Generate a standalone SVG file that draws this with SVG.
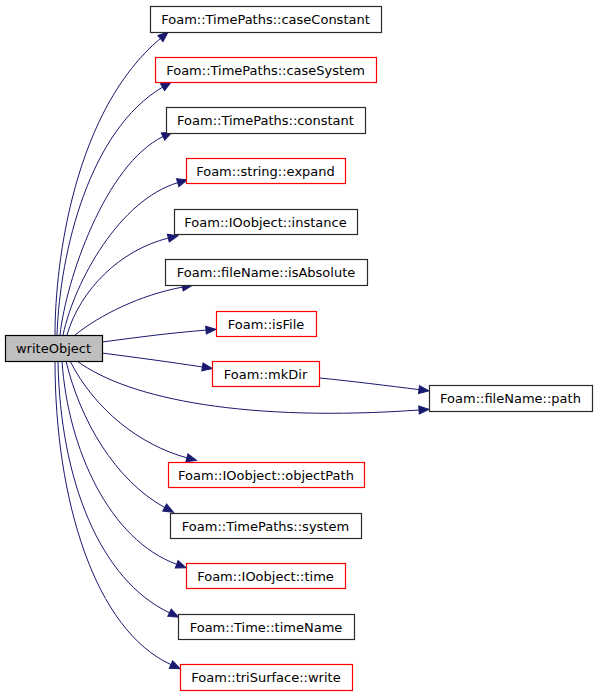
<svg xmlns="http://www.w3.org/2000/svg" width="597" height="696" viewBox="0 0 597 696">
<style>
  .bg { fill: #ffffff; }
  .n rect { fill: #ffffff; stroke: #2a2a2a; stroke-width: 1.2; }
  .n.red rect { stroke: #ff0000; }
  .n.cur rect { fill: #bfbfbf; stroke: #000000; }
  .n text { font-family: "DejaVu Sans", "Liberation Sans", sans-serif; font-size: 13px; fill: #000000; text-anchor: middle; }
  .e path { fill: none; stroke: #191970; stroke-width: 1; marker-end: url(#ah); }
</style>
<defs>
  <marker id="ah" markerUnits="userSpaceOnUse" markerWidth="12" markerHeight="10" refX="0" refY="4" orient="auto" overflow="visible">
    <path d="M0,0 L10,4 L0,8 Z" fill="#191970" stroke="#191970" stroke-width="1"/>
  </marker>
</defs>
<rect class="bg" x="0" y="0" width="597" height="696"/>
<g id="edges" class="e">
  <path d="M55,335 C55,260 75,110 160.4,38.5"/>
  <path d="M57,335 C60,250 90,130 162.5,87.2"/>
  <path d="M60,335 C66,280 105,165 163,136.5"/>
  <path d="M63,335 C75,280 120,200 177.7,182.7"/>
  <path d="M67,335 C80,290 120,250 168.3,238.1"/>
  <path d="M75,335 C100,315 140,295 182.5,287.1"/>
  <path d="M102,342 C140,337 170,333 206,330.1"/>
  <path d="M102,353 C140,358 170,362 202.4,367"/>
  <path d="M320,378 C350,381 390,386 419,389.6"/>
  <path d="M77,361 C130,400 250,422 419,410"/>
  <path d="M70,361 C95,410 140,445 186.9,457.8"/>
  <path d="M66,361 C80,420 115,480 164.7,507.5"/>
  <path d="M62,361 C68,450 110,540 176.7,564.3"/>
  <path d="M58,361 C60,480 100,580 169.5,612.8"/>
  <path d="M55,361 C55,500 95,630 171,664.6"/>
</g>
<g id="writeObject" class="n cur"><rect x="5.5" y="335.5" width="97" height="26"/><text x="53.5" y="352.5">writeObject</text></g>
<g id="caseConstant" class="n"><rect x="150.5" y="6.5" width="231" height="26"/><text x="265.5" y="23.5">Foam::TimePaths::caseConstant</text></g>
<g id="caseSystem" class="n red"><rect x="155.5" y="57.5" width="221" height="25"/><text x="265.5" y="74.5">Foam::TimePaths::caseSystem</text></g>
<g id="constant" class="n"><rect x="166.5" y="107.5" width="199" height="26"/><text x="265.5" y="125">Foam::TimePaths::constant</text></g>
<g id="expand" class="n red"><rect x="186.5" y="158.5" width="159" height="25"/><text x="265.5" y="175.5">Foam::string::expand</text></g>
<g id="instance" class="n"><rect x="174.5" y="209.5" width="183" height="25"/><text x="265.5" y="226.5">Foam::IOobject::instance</text></g>
<g id="isAbsolute" class="n"><rect x="165.5" y="259.5" width="202" height="26"/><text x="266" y="277">Foam::fileName::isAbsolute</text></g>
<g id="isFile" class="n red"><rect x="216.5" y="311.5" width="100" height="25"/><text x="266" y="328.5">Foam::isFile</text></g>
<g id="mkDir" class="n red"><rect x="212.5" y="361.5" width="107" height="25"/><text x="265.5" y="378.5">Foam::mkDir</text></g>
<g id="path" class="n"><rect x="429.5" y="385.5" width="163" height="26"/><text x="510.5" y="403">Foam::fileName::path</text></g>
<g id="objectPath" class="n red"><rect x="168.5" y="462.5" width="196" height="25"/><text x="266" y="479.5">Foam::IOobject::objectPath</text></g>
<g id="system" class="n"><rect x="170.5" y="513.5" width="191" height="25"/><text x="265.5" y="530.5">Foam::TimePaths::system</text></g>
<g id="time" class="n red"><rect x="186.5" y="563.5" width="159" height="25"/><text x="265.5" y="580.5">Foam::IOobject::time</text></g>
<g id="timeName" class="n"><rect x="178.5" y="614.5" width="176" height="25"/><text x="266" y="631.5">Foam::Time::timeName</text></g>
<g id="write" class="n red"><rect x="180.5" y="664.5" width="172" height="26"/><text x="266" y="682">Foam::triSurface::write</text></g>
</svg>
